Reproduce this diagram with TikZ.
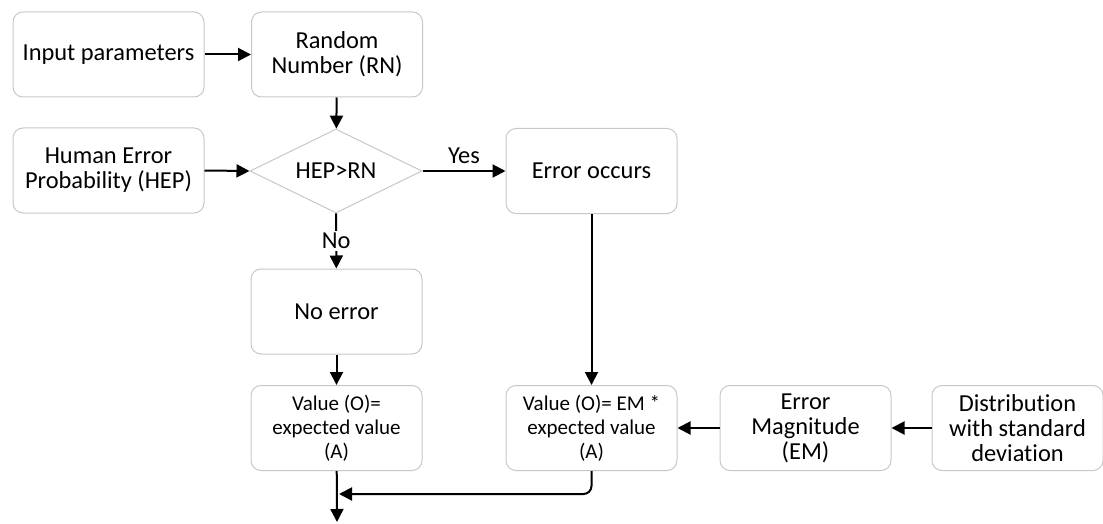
\documentclass[tikz,border=0pt]{standalone}
\usepackage{fontspec}
\setmainfont[Ligatures=NoCommon]{Carlito}
\usepackage{tikz}
\usetikzlibrary{arrows.meta,positioning,shapes.geometric}
\definecolor{ink}{HTML}{000000}
\definecolor{linegray}{HTML}{C8C8C8}
\tikzset{
  >={Triangle[length=6.5pt,width=6.5pt]},
  box/.style={draw=linegray, rounded corners=5pt, fill=white, line width=.5pt,
    minimum width=85.5pt, minimum height=42.5pt, align=center, inner sep=2pt,
    font=\fontsize{12.2}{12.5}\selectfont},
  widebox/.style={box, minimum width=95.5pt},
  smallbox/.style={box, font=\fontsize{10.5}{12}\selectfont},
  check/.style={draw=linegray, shape=diamond, aspect=2, line width=.5pt, fill=white,
    minimum width=86pt, minimum height=42pt, inner sep=0pt,
    font=\fontsize{12.2}{12.5}\selectfont},
  flow/.style={->, line width=1pt, color=ink},
  tag/.style={font=\fontsize{12.2}{12.5}\selectfont, fill=white, inner sep=1pt}
}
\begin{document}
\begin{tikzpicture}[x=0.5pt,y=-0.5pt]
  \useasboundingbox (0,0) rectangle (1103,524);
  % inputs
  \node[widebox] (inp) at (108.5,54.5) {Input parameters};
  \node[box] (rn) at (337,54.5) {Random\\Number (RN)};
  \node[widebox] (hep) at (108.5,170.5) {Human Error\\Probability (HEP)};
  \node[check] (test) at (336,171) {HEP\textgreater RN};
  \node[box] (err) at (591.5,171) {Error occurs};
  \node[box] (noerr) at (336.5,311.5) {No error};
  % outputs
  \node[smallbox] (vall) at (336.5,428) {Value (O)=\\expected value\\(A)};
  \node[smallbox] (valr) at (591.5,428) {Value (O)= EM *\\expected value\\(A)};
  \node[box] (em) at (805.5,428) {Error\\Magnitude\\(EM)};
  \node[box] (dist) at (1017.5,428) {Distribution\\with standard\\deviation};
  \coordinate (merge) at (339,494);
  \coordinate (exit) at (337,522);
  \draw[flow] (inp) -- (rn);
  \draw[flow] (rn) -- (test);
  \draw[flow] (hep.east) -- (test.west);
  \draw[flow] (test) -- node[tag,above=2pt,fill=none] {Yes} (err);
  \draw[flow] (test) -- node[tag] {No} (noerr);
  \draw[flow] (noerr) -- (vall);
  \draw[flow] (err) -- (valr);
  \draw[flow] (dist) -- (em);
  \draw[flow] (em) -- (valr);
  \draw[flow] (vall) -- (exit);
  \draw[flow, rounded corners=4pt] (valr.south) |- (merge);
\end{tikzpicture}
\end{document}
